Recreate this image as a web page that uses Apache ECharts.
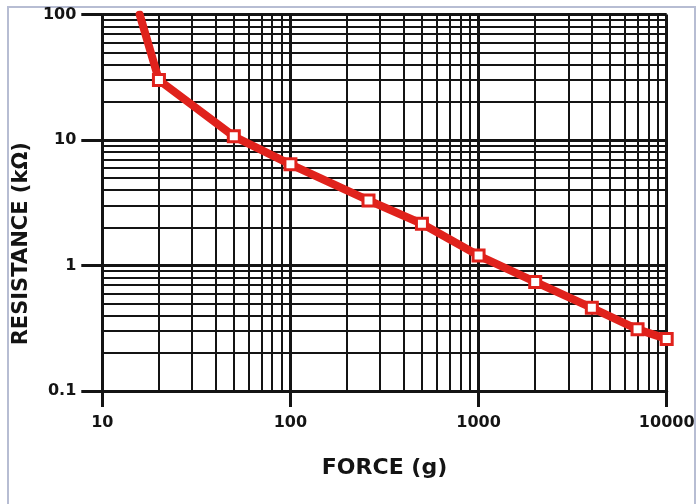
<!DOCTYPE html>
<html>
<head>
<meta charset="utf-8">
<script src="https://cdn.jsdelivr.net/npm/echarts@6/dist/echarts.min.js"></script>
<style>
html,body{margin:0;padding:0;background:#fff;}
#chart{width:697px;height:504px;}
</style>
</head>
<body>
<div id="chart"></div>
<script>
// Data (force in grams, resistance in kΩ)
var forceG      = [15.8, 20, 50, 100, 260, 500, 1000, 2000, 4000, 7000, 10000];
var resistanceK = [100, 30, 10.7, 6.4, 3.3, 2.15, 1.2, 0.74, 0.46, 0.31, 0.26];
var markerShown = [false, true, true, true, true, true, true, true, true, true, true];

// Axis ranges and grid lines
var xRange = [10, 10000];
var yRange = [0.1, 100];
var xMinorGrid = [20,30,40,50,60,70,80,90,200,300,400,500,600,700,800,900,2000,3000,4000,5000,6000,7000,8000,9000];
var yMinorGrid = [0.2,0.3,0.4,0.5,0.6,0.7,0.8,0.9,2,3,4,5,6,7,8,9,20,30,40,50,60,70,80,90];

var xTitle = 'FORCE (g)';
var yTitle = 'RESISTANCE (kΩ)';

var RED = '#e0221c';
var INK = '#141414';
var FONT = 'DejaVu Sans';

function plainNumber(v) {
  return String(+v.toPrecision(6));
}

var lineData = forceG.map(function (f, i) {
  var item = { value: [f, resistanceK[i]] };
  if (!markerShown[i]) item.symbol = 'none';
  return item;
});

var gridLines = xMinorGrid.map(function (v) { return { xAxis: v }; })
  .concat(yMinorGrid.map(function (v) { return { yAxis: v }; }));

var chart = echarts.init(document.getElementById('chart'), null, { renderer: 'canvas' });
chart.setOption({
  animation: false,
  backgroundColor: '#ffffff',
  graphic: [{
    type: 'rect',
    shape: { x: 8, y: 7, width: 687, height: 510 },
    style: { fill: 'none', stroke: '#b7bdd3', lineWidth: 2 },
    silent: true, z: -10
  }],
  grid: { left: 102.3, right: 30.3, top: 14.5, bottom: 113, containLabel: false, outerBoundsMode: 'none' },
  xAxis: {
    type: 'log', logBase: 10, min: xRange[0], max: xRange[1],
    name: xTitle, nameLocation: 'middle', nameGap: 66,
    nameTextStyle: { fontFamily: FONT, fontWeight: 'bold', fontSize: 22, color: INK },
    axisLine: { show: true, onZero: false, lineStyle: { color: INK, width: 3 } },
    axisTick: { show: true, inside: false, length: 16, lineStyle: { color: INK, width: 3 } },
    axisLabel: { margin: 24, fontFamily: FONT, fontWeight: 'bold', fontSize: 16, color: INK,
                 showMinLabel: true, showMaxLabel: true, hideOverlap: false, formatter: plainNumber },
    splitLine: { show: true, lineStyle: { color: INK, width: 3 } },
    minorTick: { show: false }
  },
  yAxis: {
    type: 'log', logBase: 10, min: yRange[0], max: yRange[1],
    name: yTitle, nameLocation: 'middle', nameGap: 68, nameRotate: 90,
    nameTextStyle: { fontFamily: FONT, fontWeight: 'bold', fontSize: 21, color: INK,
                     padding: [0, 82, 0, 0] },
    axisLine: { show: true, onZero: false, lineStyle: { color: INK, width: 3 } },
    axisTick: { show: true, inside: false, length: 21, lineStyle: { color: INK, width: 3 } },
    axisLabel: { margin: 26, fontFamily: FONT, fontWeight: 'bold', fontSize: 16, color: INK,
                 showMinLabel: true, showMaxLabel: true, hideOverlap: false, formatter: plainNumber },
    splitLine: { show: true, lineStyle: { color: INK, width: 3 } }
  },
  series: [
    {
      type: 'line',
      name: 'grid',
      data: [],
      silent: true,
      z: 1,
      markLine: {
        silent: true,
        z: 1,
        symbol: ['none', 'none'],
        label: { show: false },
        emphasis: { disabled: true },
        animation: false,
        lineStyle: { color: INK, width: 2, type: 'solid' },
        data: gridLines
      }
    },
    {
      type: 'line',
      name: 'Resistance',
      data: lineData,
      z: 5,
      symbol: 'rect',
      symbolSize: 11,
      showAllSymbol: true,
      lineStyle: { color: RED, width: 8, join: 'round', cap: 'round' },
      itemStyle: { color: '#ffffff', borderColor: RED, borderWidth: 3 },
      clip: true
    }
  ]
});
</script>
</body>
</html>
